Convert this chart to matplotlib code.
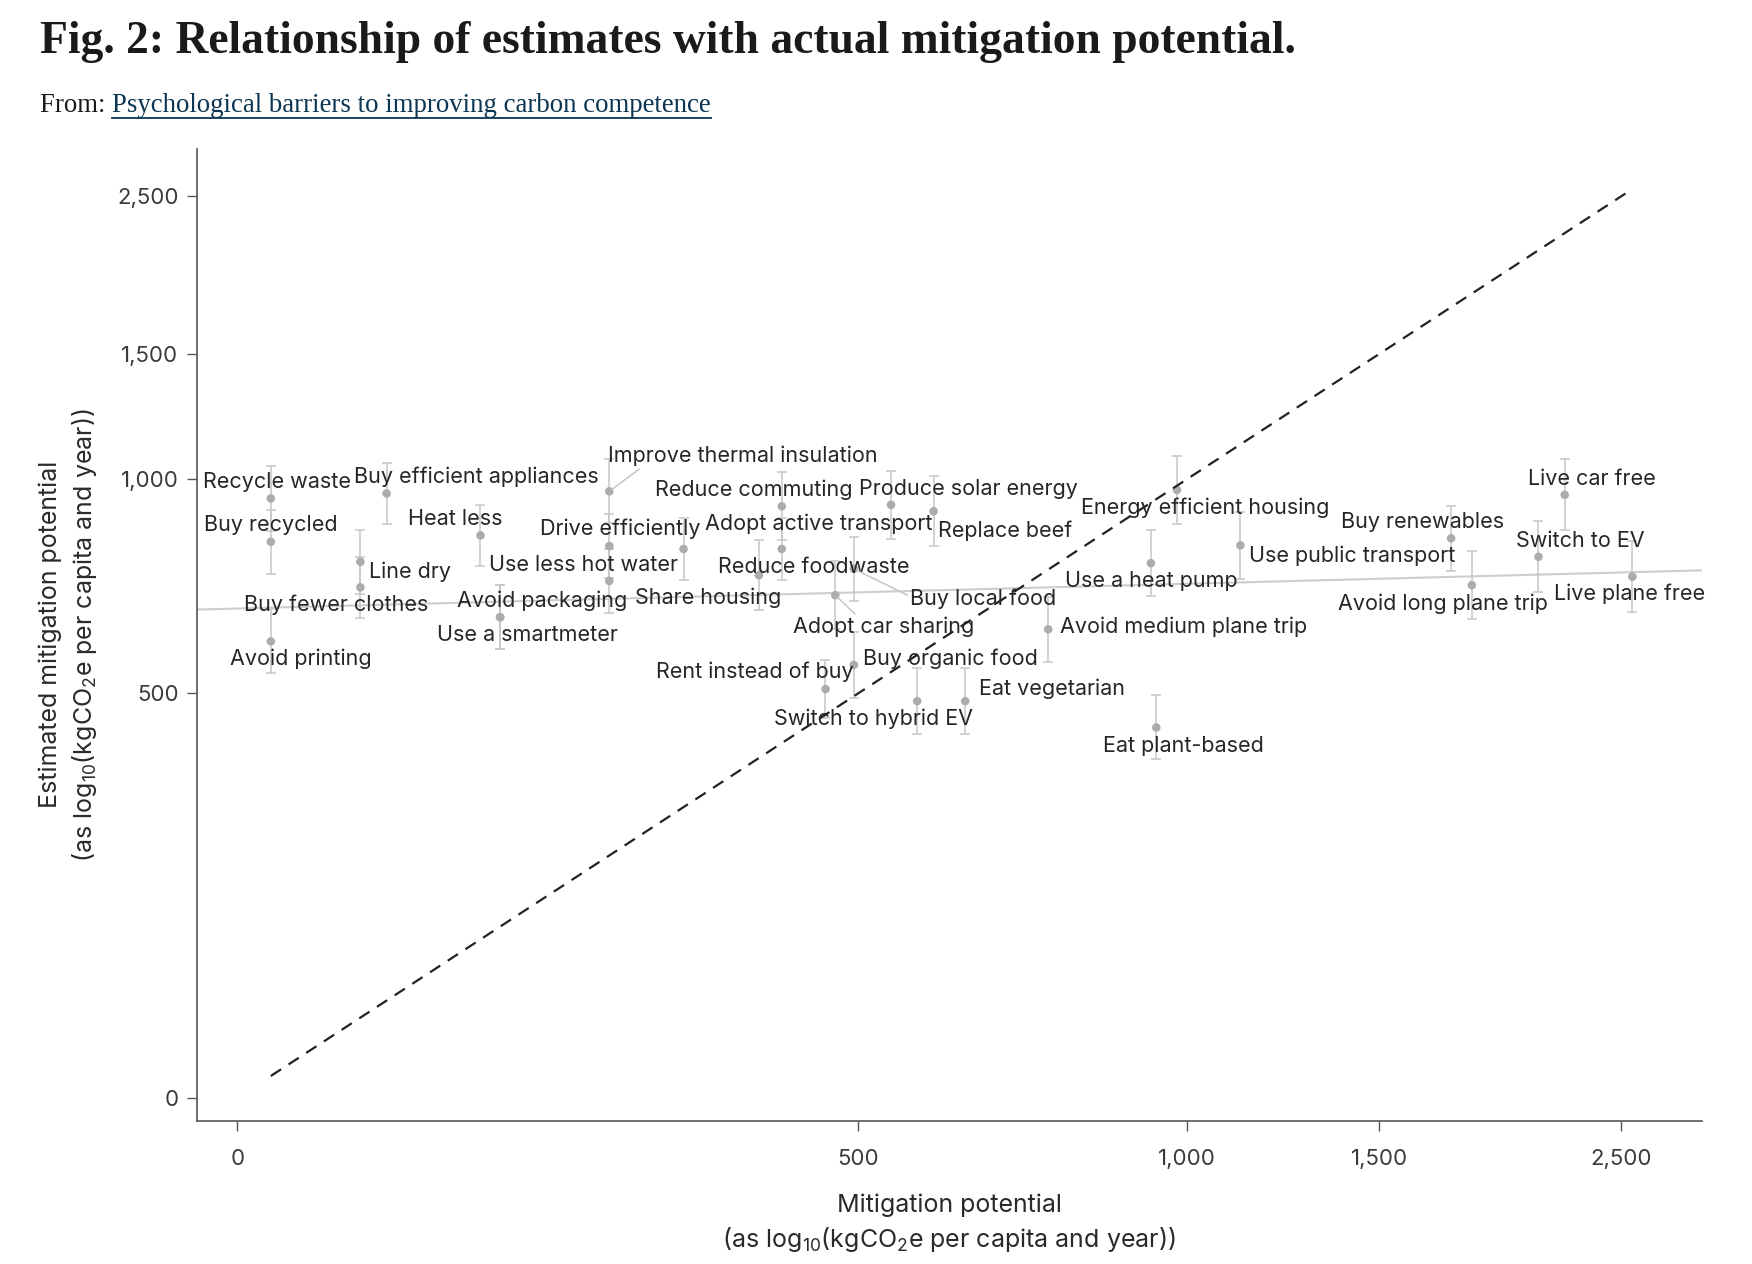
import numpy as np
import matplotlib
matplotlib.use('Agg')
import matplotlib.pyplot as plt
from matplotlib.lines import Line2D

# ---- data (log10 kgCO2e per capita and year) ----
behaviours = [
    'Recycle waste', 'Buy recycled', 'Avoid printing', 'Line dry', 'Buy fewer clothes',
    'Buy efficient appliances', 'Heat less', 'Use a smartmeter', 'Avoid packaging',
    'Improve thermal insulation', 'Drive efficiently', 'Use less hot water', 'Share housing',
    'Reduce foodwaste', 'Reduce commuting', 'Adopt active transport', 'Adopt car sharing',
    'Buy local food', 'Buy organic food', 'Rent instead of buy', 'Switch to hybrid EV',
    'Eat vegetarian', 'Produce solar energy', 'Replace beef', 'Avoid medium plane trip',
    'Eat plant-based', 'Energy efficient housing', 'Use a heat pump', 'Use public transport',
    'Buy renewables', 'Avoid long plane trip', 'Switch to EV', 'Live car free', 'Live plane free',
]
actual_log = [
    2.161, 2.161, 2.161, 2.243, 2.243,
    2.267, 2.353, 2.371, 2.371,
    2.471, 2.471, 2.471, 2.539,
    2.608, 2.629, 2.629, 2.678,
    2.695, 2.695, 2.669, 2.753,
    2.797, 2.729, 2.768, 2.873,
    2.972, 2.991, 2.967, 3.049,
    3.242, 3.261, 3.322, 3.346, 3.408,
]
estimated_log = [
    2.973, 2.912, 2.772, 2.884, 2.848,
    2.980, 2.921, 2.806, 2.806,
    2.983, 2.906, 2.857, 2.902,
    2.865, 2.962, 2.902, 2.837,
    2.874, 2.739, 2.705, 2.688,
    2.688, 2.964, 2.955, 2.789,
    2.651, 2.985, 2.882, 2.907,
    2.917, 2.851, 2.891, 2.978, 2.863,
]
estimated_err = [
    0.046, 0.045, 0.045, 0.045, 0.043,
    0.043, 0.043, 0.045, 0.045,
    0.045, 0.045, 0.045, 0.043,
    0.049, 0.048, 0.044, 0.048,
    0.045, 0.046, 0.041, 0.046,
    0.046, 0.048, 0.049, 0.046,
    0.045, 0.048, 0.046, 0.047,
    0.046, 0.048, 0.050, 0.050, 0.050,
]
# regression of estimates on actual values (as drawn in the figure)
fit_intercept = 2.733
fit_slope = 0.040

tick_labels = ['0', '500', '1,000', '1,500', '2,500']
tick_values = [135, 500, 1000, 1500, 2500]   # the '0' tick sits near log10(135)

# label offsets from their points, in points (ggrepel-like placement)
label_offsets = [
    (4.6, 11.6), (-0.2, 12.2), (21.9, -12.6), (35.8, -7.2), (-17.3, -12.8),
    (64.8, 12.1), (-18.4, 11.9), (19.6, -13.0), (30.5, 12.0),
    (96.1, 25.3), (8.0, 12.5), (-18.9, 11.8), (17.6, -34.8),
    (39.6, 6.1), (-20.3, 12.0), (26.8, 18.3), (34.8, -22.9),
    (93.2, -21.4), (69.5, 4.5), (-50.6, 12.1), (-31.8, -12.8),
    (62.8, 8.9), (55.5, 11.3), (51.2, -13.7), (97.5, 1.6),
    (19.8, -13.4), (20.2, -13.0), (0.0, -13.2), (80.5, -7.4),
    (-20.4, 11.7), (-20.6, -13.2), (30.1, 11.7), (19.5, 11.6), (-2.1, -12.5),
]
# labels connected to their point by a segment, with attachment point on the text box
leaders = {'Improve thermal insulation': (0.14, 0.1),
           'Adopt car sharing': (0.37, 0.9),
           'Buy local food': (0.0, 0.6)}

plt.rcParams['font.family'] = ['Inter', 'DejaVu Sans']
plt.rcParams['mathtext.fontset'] = 'custom'
plt.rcParams['mathtext.rm'] = 'Inter'

W, H = 1752, 1264
fig = plt.figure(figsize=(W / 100, H / 100), dpi=100)
ax = fig.add_axes([0.1122, 0.1133, 0.9713 - 0.1122, 0.8823 - 0.1133])

x = np.array(actual_log)
y = np.array(estimated_log)
err = np.array(estimated_err)

ax.set_xlim(2.093, 3.4715)
ax.set_ylim(2.098, 3.4646)

# regression line across the panel
xl = np.array(ax.get_xlim())
ax.plot(xl, fit_intercept + fit_slope * xl, color='#cdcdcd', lw=1.5, zorder=1)

# identity line
ax.plot([x.min(), x.max()], [x.min(), x.max()], color='#222222', lw=1.6,
        dashes=(5.5, 4), zorder=4)

ax.errorbar(x, y, yerr=err, fmt='none', ecolor='#c6c6c6', elinewidth=1.1,
            capsize=3.8, capthick=1.1, zorder=2)
ax.scatter(x, y, s=38, color='#acacac', edgecolor='none', zorder=3)

lab_size = 15.5
for name, xi, yi, off in zip(behaviours, x, y, label_offsets):
    if name in leaders:
        ax.annotate(name, (xi, yi), xytext=off, textcoords='offset points',
                    ha='center', va='center', fontsize=lab_size, color='#262626', zorder=5,
                    arrowprops=dict(arrowstyle='-', color='#c6c6c6', lw=1.1,
                                    shrinkA=0, shrinkB=2, relpos=leaders[name]))
    else:
        ax.annotate(name, (xi, yi), xytext=off, textcoords='offset points',
                    ha='center', va='center', fontsize=lab_size, color='#262626', zorder=5)

ticks = np.log10(tick_values)
ax.set_xticks(ticks)
ax.set_xticklabels(tick_labels)
ax.set_yticks(ticks)
ax.set_yticklabels(tick_labels)
ax.tick_params(direction='out', length=7, width=1, color='#555555',
               labelsize=16, labelcolor='#3a3a3a')
ax.tick_params(axis='x', pad=13)
ax.tick_params(axis='y', pad=6)
for s in ['top', 'right']:
    ax.spines[s].set_visible(False)
for s in ['left', 'bottom']:
    ax.spines[s].set_color('#555555')
    ax.spines[s].set_linewidth(1.2)

ax.set_xlabel('Mitigation potential\n(as log$\\mathregular{_{10}}$(kgCO$\\mathregular{_2}$e per capita and year))',
              fontsize=18, color='#2a2a2a', labelpad=18, linespacing=1.35)
ax.set_ylabel('Estimated mitigation potential\n(as log$\\mathregular{_{10}}$(kgCO$\\mathregular{_2}$e per capita and year))',
              fontsize=18, color='#2a2a2a', labelpad=13, linespacing=1.35)

# ---- header ----
title = fig.text(40 / W, 1 - 53 / H, 'Fig. 2: Relationship of estimates with actual mitigation potential.',
                 family='Liberation Serif', weight='bold', fontsize=30, color='#1a1a1a',
                 va='baseline', ha='left')
frm = fig.text(40 / W, 1 - 112 / H, 'From: ', family='Liberation Serif', fontsize=16,
               color='#1a1a1a', va='baseline', ha='left')

renderer = fig.canvas.get_renderer()
# scale title so it spans the same width as in the reference
tw = title.get_window_extent(renderer).width
title.set_fontsize(30 * 1253 / tw)

fw = frm.get_window_extent(renderer)
link = fig.text(fw.x1 / W, 1 - 112 / H, 'Psychological barriers to improving carbon competence',
                family='Liberation Serif', fontsize=16, color='#0b3550', va='baseline', ha='left')
lb = link.get_window_extent(renderer)
scale = (712 - 40) / (lb.x1 - fw.x0)
frm.set_fontsize(16 * scale)
fw = frm.get_window_extent(renderer)
link.set_fontsize(16 * scale)
link.set_x(fw.x1 / W)
lb = link.get_window_extent(renderer)
uy = (H - 118) / H
fig.add_artist(Line2D([lb.x0 / W, lb.x1 / W], [uy, uy], color='#0b3550', lw=1.3))

fig.savefig('out.png', dpi=100)
